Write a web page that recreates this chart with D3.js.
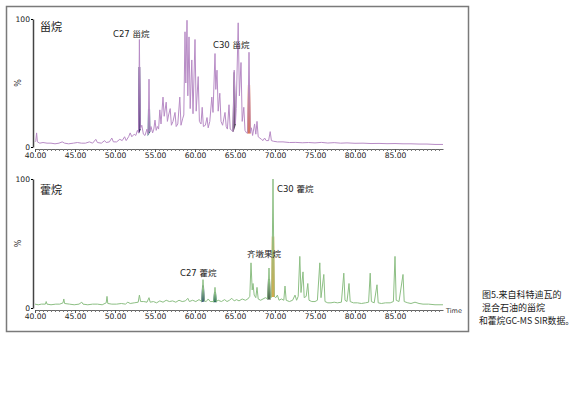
<!DOCTYPE html>
<html>
<head>
<meta charset="utf-8">
<script src="https://cdn.jsdelivr.net/npm/d3@7"></script>
<style>
  body { margin: 0; background: #fff; }
  svg { display: block; }
</style>
</head>
<body>
<div id="chart"></div>
<script>
// retention time (min) and relative abundance (%)
const steraneTrace = [
  [40.0,4],[40.1,5],[40.2,11],[40.3,4],[40.6,3],[41.0,3.5],[41.5,3],[42.0,3],[42.5,2.5],[43.0,3],
  [43.4,4],[43.7,3],[44.2,2.5],[44.8,3],[45.3,3.5],[45.8,3],[46.3,3],[46.8,4],[47.2,3],[47.6,6],
  [47.8,3.5],[48.3,3],[48.7,5],[48.9,3.5],[49.3,4],[49.6,7],[49.8,4],[50.2,4],[50.6,6],[50.9,5],
  [51.2,8],[51.4,5],[51.7,8],[51.9,11],[52.1,8],[52.4,10],[52.6,9],[52.8,13],[52.95,11],[53.05,84],
  [53.15,14],[53.35,17],[53.55,10],[53.75,9],[54.0,14],[54.15,10],[54.25,53],[54.35,12],[54.5,16],[54.7,11],
  [54.85,14],[55.0,21],[55.15,13],[55.3,16],[55.45,14],[55.6,29],[55.75,18],[56.0,39],[56.15,24],[56.4,35],
  [56.55,20],[56.7,25],[56.9,30],[57.05,17],[57.25,20],[57.5,27],[57.65,16],[57.85,18],[58.1,39],[58.25,17],
  [58.45,22],[58.6,25],[58.75,90],[58.85,50],[59.0,99],[59.1,40],[59.25,86],[59.4,30],[59.6,68],[59.75,26],
  [60.0,84],[60.15,28],[60.4,55],[60.55,20],[60.75,18],[60.9,31],[61.05,16],[61.3,17],[61.5,23],[61.65,15],
  [61.85,20],[62.1,39],[62.25,27],[62.5,73],[62.6,45],[62.75,60],[62.9,28],[63.1,42],[63.25,20],[63.45,17],
  [63.75,27],[63.9,16],[64.05,14],[64.25,33],[64.4,14],[64.6,13],[64.75,12],[64.9,60],[65.05,18],[65.15,30],
  [65.4,97],[65.55,40],[65.75,66],[65.9,20],[66.1,31],[66.25,13],[66.45,11],[66.6,11],[66.75,74],[66.9,11],
  [67.05,15],[67.2,9],[67.45,18],[67.6,10],[67.75,20],[67.9,8],[68.1,7],[68.3,6],[68.5,5],[68.7,7],
  [68.9,5],[69.2,5],[69.4,12],[69.55,5],[69.8,4.5],[70.3,4],[71.0,4],[71.8,3.5],[72.6,3.6],[73.4,3.3],
  [74.2,3.5],[75.0,3.2],[75.8,3.6],[76.6,3.1],[77.4,3.4],[78.2,3],[79.0,3.2],[80.0,2.9],[81.0,3],[82.0,2.7],
  [83.0,2.8],[84.0,2.6],[85.0,2.7],[86.0,2.5],[87.0,2.5],[88.0,2.3],[89.0,2.3],[90.0,2],[91.0,2]
];
const hopaneTrace = [
  [40.0,3],[40.4,2.5],[40.8,3],[41.3,3],[41.4,5],[41.5,3],[42.0,2.5],[42.6,3],[43.1,3],[43.5,4],
  [43.6,7],[43.7,3.5],[44.3,3],[44.9,2.5],[45.5,3],[45.85,4.5],[46.0,3],[46.6,2.5],[47.2,3],[47.8,3],
  [48.4,2.5],[48.9,4],[49.0,9],[49.1,3.5],[49.6,3],[50.2,3],[50.8,3.5],[51.3,3],[51.6,4.5],[51.9,3.5],
  [52.4,4],[52.9,4.5],[53.05,10],[53.2,5],[53.6,5],[54.0,4.5],[54.25,8],[54.4,4.5],[54.8,5],[55.2,4],
  [55.6,5.5],[56.0,4.5],[56.4,6],[56.8,5],[57.2,5.5],[57.6,4.5],[58.0,6],[58.4,5],[58.8,5.5],[59.1,7.5],
  [59.3,5],[59.7,6],[60.1,5],[60.5,6.5],[60.85,5],[61.0,22],[61.15,5.5],[61.4,5],[61.65,7],[61.9,5],
  [62.35,5],[62.5,16],[62.65,5],[62.9,6],[63.3,5],[63.7,6.5],[64.0,5],[64.3,6],[64.6,7.5],[64.9,5.5],
  [65.2,6.5],[65.5,5.5],[65.9,7],[66.3,6],[66.6,7],[66.85,9],[67.0,35],[67.15,14],[67.25,19],[67.4,10],
  [67.6,8],[67.75,16],[67.9,7],[68.2,6],[68.5,7],[68.8,8],[69.1,7],[69.25,31],[69.4,7],[69.6,9],
  [69.75,100],[69.9,9],[70.1,8],[70.3,10],[70.5,6],[70.8,7],[71.1,6],[71.25,17],[71.4,6],[71.8,5],
  [72.2,6],[72.5,10],[72.7,6],[72.9,9],[73.1,40],[73.25,12],[73.5,28],[73.65,8],[73.9,9],[74.1,19],
  [74.25,6],[74.6,5],[75.0,5],[75.3,6],[75.6,35],[75.75,8],[76.1,26],[76.25,5],[76.6,4],[77.0,4],
  [77.4,4.5],[77.8,4],[78.3,4.5],[78.6,27],[78.75,6],[79.0,5],[79.25,19],[79.4,5],[79.8,4],[80.3,4],
  [80.8,3.5],[81.3,4],[81.7,4.5],[81.9,27],[82.05,5],[82.4,4],[82.75,18],[82.9,4],[83.3,3.5],[83.8,4],
  [84.4,4],[84.8,5],[85.0,40],[85.15,6],[85.5,5],[86.0,26],[86.15,5],[86.6,4],[87.0,3.5],[87.5,4.5],
  [88.0,3.5],[88.5,3],[89.2,3],[90.0,2.5],[91.0,2.5]
];

// marked compounds: peak time, and how far up the peak the colour reaches (%)
const steraneMarkTime = [53.05, 54.25, 64.9, 66.75];
const steraneMarkLevel = [62, 29, 58, 48];
const hopaneMarkTime = [61.0, 62.5, 69.25, 69.75];
const hopaneMarkLevel = [17, 12, 22, 55];

const xTicks = [40, 45, 50, 55, 60, 65, 70, 75, 80, 85];
const yTicks = [0, 100];

const svg = d3.select("#chart").append("svg")
    .attr("width", 580)
    .attr("height", 399);

// outer frame
svg.append("rect")
    .attr("x", 6.5).attr("y", 6.5)
    .attr("width", 462).attr("height", 325)
    .attr("fill", "none")
    .attr("stroke", "#7a7a7a")
    .attr("stroke-width", 1.5);

const x = d3.scaleLinear().domain([40, 91]).range([35, 443]);

function drawPanel(cfg) {
    const y = d3.scaleLinear().domain([0, 100]).range([cfg.y0, cfg.y100]);
    const g = svg.append("g");

    // x axis, major labelled + minor ticks
    const minor = d3.range(40, 91, 0.5);
    g.append("g")
        .attr("transform", `translate(0,${cfg.y0 + 2})`)
        .call(d3.axisBottom(x).tickValues(minor).tickSize(2).tickFormat("").tickSizeOuter(0))
        .call(a => a.select(".domain").attr("stroke", "#666"))
        .call(a => a.selectAll(".tick line").attr("stroke", "#777"));
    g.append("g")
        .attr("transform", `translate(0,${cfg.y0 + 2})`)
        .call(d3.axisBottom(x).tickValues(xTicks).tickSize(3).tickPadding(1).tickFormat(d3.format(".2f")).tickSizeOuter(0))
        .call(a => a.select(".domain").remove())
        .call(a => a.selectAll(".tick line").attr("stroke", "#555"))
        .call(a => a.selectAll("text")
            .attr("font-family", "DejaVu Sans, Verdana, sans-serif")
            .attr("font-size", 7.6)
            .attr("fill", "#222"));

    // y axis
    g.append("g")
        .attr("transform", `translate(${x(40) - 2},0)`)
        .call(d3.axisLeft(y).tickValues(yTicks).tickSize(2).tickPadding(1).tickSizeOuter(0))
        .call(a => a.select(".domain").attr("stroke", "#444").attr("stroke-width", 1.5))
        .call(a => a.selectAll("text")
            .attr("font-family", "DejaVu Sans, Verdana, sans-serif")
            .attr("font-size", 7.6)
            .attr("fill", "#222"));

    g.append("text")
        .attr("transform", `translate(21,${(cfg.y0 + cfg.y100) / 2}) rotate(-90)`)
        .attr("text-anchor", "middle")
        .attr("font-family", "DejaVu Sans, sans-serif")
        .attr("font-size", 8)
        .attr("fill", "#333")
        .text("%");

    // coloured portions of the marked peaks
    cfg.markTime.forEach(function(t, k) {
        const i = cfg.trace.findIndex(p => p[0] === t);
        const L = cfg.trace[i - 1], A = cfg.trace[i], R = cfg.trace[i + 1];
        const f = cfg.markLevel[k];
        const tl = L[0] + (A[0] - L[0]) * (f - L[1]) / (A[1] - L[1]);
        const tr = R[0] - (R[0] - A[0]) * (f - R[1]) / (A[1] - R[1]);
        const pts = [[L[0], L[1]], [tl, f], [tr, f], [R[0], R[1]]];
        g.append("path")
            .attr("d", d3.line().x(p => x(p[0])).y(p => y(p[1]))(pts) + "Z")
            .attr("fill", cfg.markColor[k])
            .attr("stroke", cfg.markColor[k])
            .attr("stroke-width", 1.2);
    });

    // trace
    g.append("path")
        .datum(cfg.trace)
        .attr("d", d3.line().x(d => x(d[0])).y(d => y(d[1])))
        .attr("fill", "none")
        .attr("stroke", cfg.lineColor)
        .attr("stroke-width", 1)
        .attr("stroke-linejoin", "round");

    // labels
    cfg.labels.forEach(function(l) {
        g.append("text")
            .attr("x", l.x).attr("y", l.y)
            .attr("font-family", "DejaVu Sans, 'Noto Sans CJK SC', sans-serif")
            .attr("font-size", l.size || 8.5)
            .attr("fill", "#222")
            .text(l.text);
    });
}

drawPanel({
    trace: steraneTrace,
    y0: 147, y100: 19,
    lineColor: "#b88cc6",
    markTime: steraneMarkTime,
    markLevel: steraneMarkLevel,
    markColor: ["#2c1e5e", "#2f6f74", "#5e4e66", "#e06a35"],
    labels: [
        { text: "甾烷", x: 40, y: 31, size: 11 },
        { text: "C27 甾烷", x: 113, y: 37 },
        { text: "C30 甾烷", x: 213, y: 48 }
    ]
});

drawPanel({
    trace: hopaneTrace,
    y0: 308, y100: 179,
    lineColor: "#8dbf84",
    markTime: hopaneMarkTime,
    markLevel: hopaneMarkLevel,
    markColor: ["#24406e", "#1d5e57", "#34413a", "#eba43c"],
    labels: [
        { text: "藿烷", x: 40, y: 194, size: 11 },
        { text: "C27 藿烷", x: 180, y: 276 },
        { text: "齐墩果烷", x: 247, y: 257 },
        { text: "C30 藿烷", x: 277, y: 192 }
    ]
});

svg.append("text")
    .attr("x", 446).attr("y", 313)
    .attr("font-family", "DejaVu Sans, sans-serif")
    .attr("font-size", 6.5)
    .attr("fill", "#333")
    .text("Time");

// caption
const caption = ["图5.来自科特迪瓦的", "混合石油的甾烷", "和藿烷GC-MS SIR数据。"];
svg.append("g").selectAll("text")
    .data(caption)
    .join("text")
    .attr("x", (d, i) => i === 2 ? 479 : 482)
    .attr("y", (d, i) => 298 + i * 13)
    .attr("font-family", "'Noto Sans CJK SC', sans-serif")
    .attr("font-size", 9)
    .attr("fill", "#222")
    .each(function(d, i) {
        if (i === 2) d3.select(this).attr("textLength", 95).attr("lengthAdjust", "spacingAndGlyphs");
    })
    .text(d => d);
</script>
</body>
</html>
